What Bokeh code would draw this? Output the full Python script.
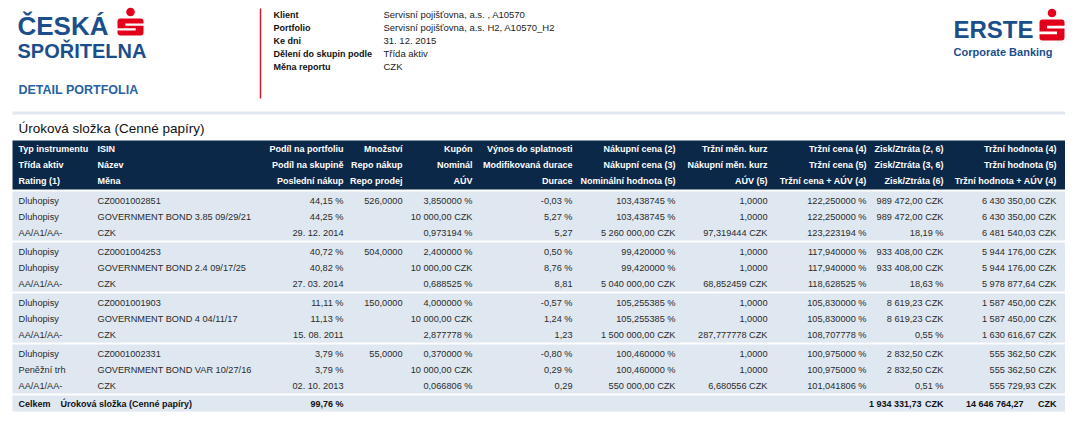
from bokeh.plotting import figure
from bokeh.models import Range1d
from bokeh.embed import file_html
from bokeh.resources import INLINE
from bokeh.core.properties import value

# ---------------- data ----------------
info_labels = ["Klient", "Portfolio", "Ke dni", "Dělení do skupin podle", "Měna reportu"]
info_values = ["Servisní pojišťovna, a.s. , A10570", "Servisní pojišťovna, a.s. H2, A10570_H2",
               "31. 12. 2015", "Třída aktiv", "CZK"]

section_title = "Úroková složka (Cenné papíry)"

header_row1 = ["Typ instrumentu", "ISIN", "Podíl na portfoliu", "Množství", "Kupón", "Výnos do splatnosti",
               "Nákupní cena (2)", "Tržní měn. kurz", "Tržní cena (4)", "Zisk/Ztráta (2, 6)", "Tržní hodnota (4)"]
header_row2 = ["Třída aktiv", "Název", "Podíl na skupině", "Repo nákup", "Nominál", "Modifikovaná durace",
               "Nákupní cena (3)", "Nákupní měn. kurz", "Tržní cena (5)", "Zisk/Ztráta (3, 6)", "Tržní hodnota (5)"]
header_row3 = ["Rating (1)", "Měna", "Poslední nákup", "Repo prodej", "AÚV", "Durace",
               "Nominální hodnota (5)", "AÚV (5)", "Tržní cena + AÚV (4)", "Zisk/Ztráta (6)", "Tržní hodnota + AÚV (4)"]

col_typ = ["Dluhopisy", "Dluhopisy", "AA/A1/AA-",
           "Dluhopisy", "Dluhopisy", "AA/A1/AA-",
           "Dluhopisy", "Dluhopisy", "AA/A1/AA-",
           "Dluhopisy", "Peněžní trh", "AA/A1/AA-"]
col_isin = ["CZ0001002851", "GOVERNMENT BOND 3.85 09/29/21", "CZK",
            "CZ0001004253", "GOVERNMENT BOND 2.4 09/17/25", "CZK",
            "CZ0001001903", "GOVERNMENT BOND 4 04/11/17", "CZK",
            "CZ0001002331", "GOVERNMENT BOND VAR 10/27/16", "CZK"]
col_podil = ["44,15 %", "44,25 %", "29. 12. 2014",
             "40,72 %", "40,82 %", "27. 03. 2014",
             "11,11 %", "11,13 %", "15. 08. 2011",
             "3,79 %", "3,79 %", "02. 10. 2013"]
col_mnozstvi = ["526,0000", "", "",
                "504,0000", "", "",
                "150,0000", "", "",
                "55,0000", "", ""]
col_kupon = ["3,850000 %", "10 000,00 CZK", "0,973194 %",
             "2,400000 %", "10 000,00 CZK", "0,688525 %",
             "4,000000 %", "10 000,00 CZK", "2,877778 %",
             "0,370000 %", "10 000,00 CZK", "0,066806 %"]
col_vynos = ["-0,03 %", "5,27 %", "5,27",
             "0,50 %", "8,76 %", "8,81",
             "-0,57 %", "1,24 %", "1,23",
             "-0,80 %", "0,29 %", "0,29"]
col_nakup = ["103,438745 %", "103,438745 %", "5 260 000,00 CZK",
             "99,420000 %", "99,420000 %", "5 040 000,00 CZK",
             "105,255385 %", "105,255385 %", "1 500 000,00 CZK",
             "100,460000 %", "100,460000 %", "550 000,00 CZK"]
col_kurz = ["1,0000", "1,0000", "97,319444 CZK",
            "1,0000", "1,0000", "68,852459 CZK",
            "1,0000", "1,0000", "287,777778 CZK",
            "1,0000", "1,0000", "6,680556 CZK"]
col_trzni_cena = ["122,250000 %", "122,250000 %", "123,223194 %",
                  "117,940000 %", "117,940000 %", "118,628525 %",
                  "105,830000 %", "105,830000 %", "108,707778 %",
                  "100,975000 %", "100,975000 %", "101,041806 %"]
col_zisk = ["989 472,00 CZK", "989 472,00 CZK", "18,19 %",
            "933 408,00 CZK", "933 408,00 CZK", "18,63 %",
            "8 619,23 CZK", "8 619,23 CZK", "0,55 %",
            "2 832,50 CZK", "2 832,50 CZK", "0,51 %"]
col_hodnota = ["6 430 350,00 CZK", "6 430 350,00 CZK", "6 481 540,03 CZK",
               "5 944 176,00 CZK", "5 944 176,00 CZK", "5 978 877,64 CZK",
               "1 587 450,00 CZK", "1 587 450,00 CZK", "1 630 616,67 CZK",
               "555 362,50 CZK", "555 362,50 CZK", "555 729,93 CZK"]

total_label = "Celkem"
total_podil = "99,76 %"
total_zisk = "1 934 331,73"
total_hodnota = "14 646 764,27"
total_currency = "CZK"

# ---------------- layout / style ----------------
FONT = "Liberation Sans"
NAVY = "#0c2849"
ROWBG = "#dfe7f0"
BLUE = "#1b4f8c"
RED = "#e2001a"

W, H = 1065, 414
p = figure(width=W, height=H, x_range=Range1d(0, W), y_range=Range1d(H, 0),
           output_backend="svg", toolbar_location=None, min_border=0,
           x_axis_location=None, y_axis_location=None)
p.grid.visible = False
p.outline_line_color = None
p.background_fill_color = "white"
p.border_fill_color = "white"


def txt(xs, ys, texts, align="left", size="9.2px", bold=False, color="#2b2b2b",
        font=FONT, baseline="middle"):
    p.text(x=xs, y=ys, text=texts, text_align=align, text_baseline=baseline,
           text_font=value(font), text_font_size=value(size),
           text_font_style="bold" if bold else "normal", text_color=color)


# column anchors: (x, align)
cols = [(18, "left"), (97, "left"), (343, "right"), (402, "right"), (472, "right"),
        (572, "right"), (675, "right"), (767, "right"), (866, "right"), (943, "right"),
        (1056, "right")]
TL, TR = 12, 1065

# ---- logos ----
def s_logo(L, R, T, B, dot_y):
    w, h = R - L, B - T
    p.quad(left=[L], right=[R], top=[T], bottom=[B], fill_color=RED, line_color=None,
           border_radius=3)
    p.quad(left=[L + 0.3 * w], right=[R + 0.5], top=[T + 0.3 * h], bottom=[T + 0.43 * h],
           fill_color="white", line_color=None)
    p.quad(left=[L - 0.5], right=[R - 0.3 * w], top=[T + 0.57 * h], bottom=[T + 0.7 * h],
           fill_color="white", line_color=None)
    p.circle(x=[(L + R) / 2], y=[dot_y], radius=4.3, fill_color=RED, line_color=None)


txt([17], [25], ["ČESKÁ"], size="26px", bold=True, color=BLUE)
txt([17], [50], ["SPOŘITELNA"], size="20px", bold=True, color=BLUE)
s_logo(117, 143, 18, 35, 11.5)
txt([18], [89], ["DETAIL PORTFOLIA"], size="12.5px", bold=True, color="#2762a3")

txt([953], [29], ["ERSTE"], size="24px", bold=True, color=BLUE)
s_logo(1039, 1064, 19, 40, 12.5)
txt([953], [51], ["Corporate Banking"], size="11px", bold=True, color=BLUE)

# red divider
p.segment(x0=[260], y0=[8], x1=[260], y1=[98], line_color="#d0202e", line_width=1.5)

# info block
info_y = [14 + 13 * i for i in range(len(info_labels))]
txt([273] * len(info_labels), info_y, info_labels, size="9px", bold=True, color="#111111")
txt([383] * len(info_values), info_y, info_values, size="9.5px", color="#222222")

# separator line
p.quad(left=[TL], right=[TR], top=[111], bottom=[114], fill_color="#e1e7ee", line_color=None)

# section title
txt([18], [128], [section_title], size="13.5px", color="#111111")

# header band
p.quad(left=[TL], right=[TR], top=[140], bottom=[189], fill_color=NAVY, line_color=None)
for r, row in enumerate([header_row1, header_row2, header_row3]):
    y = 148 + 16 * r
    for (x, al), t in zip(cols, row):
        txt([x], [y], [t], align=al, size="9px", bold=True, color="white")

# data blocks
columns = [col_typ, col_isin, col_podil, col_mnozstvi, col_kupon, col_vynos,
           col_nakup, col_kurz, col_trzni_cena, col_zisk, col_hodnota]
n_rows = len(col_typ)
n_blocks = n_rows // 3
block_tops = [191 + 51 * k for k in range(n_blocks)]
p.quad(left=[TL] * n_blocks, right=[TR] * n_blocks, top=block_tops,
       bottom=[t + 49 for t in block_tops], fill_color=ROWBG, line_color=None)
row_y = [block_tops[i // 3] + 9 + 16 * (i % 3) for i in range(n_rows)]
for (x, al), col in zip(cols, columns):
    txt([x] * n_rows, row_y, col, align=al)

# total row
tot_top = 191 + 51 * n_blocks
tot_y = tot_top + 8
p.quad(left=[TL], right=[TR], top=[tot_top], bottom=[tot_top + 16], fill_color=ROWBG,
       line_color=None)
txt([18], [tot_y], [total_label], size="9px", bold=True, color="#111111")
txt([60], [tot_y], [section_title], size="9px", bold=True, color="#111111")
txt([343], [tot_y], [total_podil], align="right", size="9px", bold=True, color="#111111")
txt([921, 1023], [tot_y, tot_y], [total_zisk, total_hodnota], align="right", size="9px",
    bold=True, color="#111111")
txt([943, 1056], [tot_y, tot_y], [total_currency, total_currency], align="right", size="9px",
    bold=True, color="#111111")

open("out.html", "w").write(file_html(p, INLINE))
